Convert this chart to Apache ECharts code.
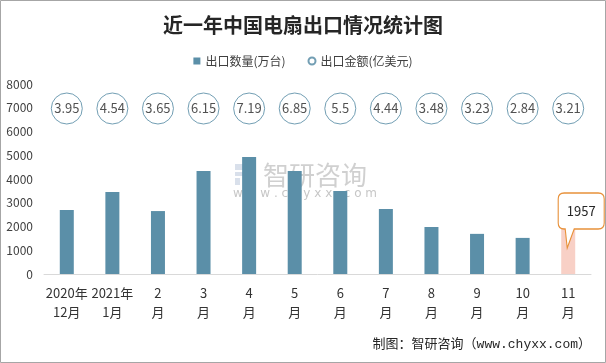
<!DOCTYPE html>
<html>
<head>
<meta charset="utf-8">
<script src="https://cdn.jsdelivr.net/npm/echarts@6/dist/echarts.min.js"></script>
<style>
html,body{margin:0;padding:0;background:#fff;}
#c{width:606px;height:363px;}
</style>
</head>
<body>
<div id="c"></div>
<script>
const categories = ['2020年\n12月','2021年\n1月','2\n月','3\n月','4\n月','5\n月','6\n月','7\n月','8\n月','9\n月','10\n月','11\n月'];
const exportVolume = [2700, 3450, 2650, 4340, 4930, 4340, 3500, 2740, 1980, 1690, 1520, 1957];
const exportValue = [3.95, 4.54, 3.65, 6.15, 7.19, 6.85, 5.5, 4.44, 3.48, 3.23, 2.84, 3.21];
const yMin = 0, yMax = 8000, yInterval = 1000;

const FONT = '"Noto Sans CJK SC", sans-serif';
const chart = echarts.init(document.getElementById('c'));
const lastIdx = exportVolume.length - 1;

chart.setOption({
  animation: false,
  backgroundColor: '#fff',
  title: {
    text: '近一年中国电扇出口情况统计图',
    left: 'center', top: 10,
    textStyle: {fontFamily: FONT, fontSize: 20, fontWeight: 'bold', color: '#262626'}
  },
  legend: {
    top: 50, left: 'center',
    itemWidth: 7, itemHeight: 7, itemGap: 22,
    textStyle: {fontFamily: FONT, fontSize: 12, color: '#404040'},
    data: [
      {name: '出口数量(万台)', icon: 'rect'},
      {name: '出口金额(亿美元)', icon: 'circle'}
    ]
  },
  grid: [
    {left: 44, right: 15, top: 84, bottom: 89},
    {left: 44, right: 15, top: 93, height: 31}
  ],
  xAxis: [{
    type: 'category', data: categories, gridIndex: 0,
    axisLine: {lineStyle: {color: '#d9d9d9', width: 1}},
    axisTick: {show: false},
    axisLabel: {interval: 0, margin: 10, fontFamily: FONT, fontSize: 13, lineHeight: 19, color: '#333'}
  }, {
    type: 'category', data: categories, gridIndex: 1, show: false
  }],
  yAxis: [{
    type: 'value', min: yMin, max: yMax, interval: yInterval, gridIndex: 0,
    axisLine: {show: false}, axisTick: {show: false}, splitLine: {show: false},
    axisLabel: {margin: 11, fontFamily: FONT, fontSize: 12, color: '#404040', formatter: v => String(v)}
  }, {
    type: 'value', min: 0, max: 1, gridIndex: 1, show: false
  }],
  series: [{
    name: '出口数量(万台)',
    type: 'bar', barWidth: 14,
    itemStyle: {color: '#5b8fa8'},
    data: exportVolume.map((v, i) => i === lastIdx ? {value: v, itemStyle: {color: '#f8d0c6'}} : v),
    markPoint: {
      symbol: 'path://M6,0 H40 Q46,0 46,6 V30 Q46,36 40,36 H16 L9,55 L7,36 H6 Q0,36 0,30 V6 Q0,0 6,0 Z',
      symbolSize: [46, 55],
      symbolOffset: [13, -7],
      itemStyle: {color: '#fff', borderColor: '#e8913a', borderWidth: 1.2},
      label: {show: true, position: 'inside', offset: [0, -9.5], fontFamily: FONT, fontSize: 13, color: '#262626', formatter: '{c}'},
      data: [{coord: [lastIdx, exportVolume[lastIdx]], value: exportVolume[lastIdx]}]
    }
  }, {
    name: '出口金额(亿美元)',
    type: 'scatter', xAxisIndex: 1, yAxisIndex: 1,
    symbol: 'circle', symbolSize: 31,
    itemStyle: {color: '#fff', borderColor: '#4f86a0', borderWidth: 1},
    label: {show: true, position: 'inside', fontFamily: FONT, fontSize: 13, color: '#262626',
      formatter: p => String(p.value[2])},
    data: exportValue.map((v, i) => [i, 0.5, v]),
    z: 5
  }],
  graphic: [
    {type: 'group', z: 100, silent: true, children: [
      {type: 'rect', shape: {x: 235, y: 164, width: 9, height: 6}, style: {fill: '#c9d3e3', opacity: 0.7}},
      {type: 'rect', shape: {x: 246, y: 164, width: 10, height: 10}, style: {fill: '#b8c7dc', opacity: 0.7}},
      {type: 'rect', shape: {x: 235, y: 172, width: 9, height: 4}, style: {fill: '#c9d3e3', opacity: 0.7}},
      {type: 'rect', shape: {x: 235, y: 178, width: 5, height: 7}, style: {fill: '#c9d3e3', opacity: 0.7}},
      {type: 'rect', shape: {x: 246, y: 177, width: 10, height: 8}, style: {fill: '#b8c7dc', opacity: 0.7}},
      {type: 'text', style: {text: '智研咨询', x: 263, y: 175, verticalAlign: 'middle', font: '26px "Noto Sans CJK SC"', fill: '#b0b0b0', opacity: 0.6}},
      {type: 'text', style: {text: 'w w w . c h y x x . c o m', x: 233, y: 194, verticalAlign: 'middle', font: '12px "DejaVu Sans"', fill: '#a0a0a0', opacity: 0.6}}
    ]},
    {type: 'text', right: 15, top: 338, style: {text: '制图：智研咨询（www.chyxx.com）', font: '13px "Liberation Mono", "Noto Sans CJK SC"', fill: '#262626'}},
    {type: 'rect', z: 100, silent: true, shape: {x: 0.5, y: 0.5, width: 605, height: 362}, style: {fill: 'none', stroke: '#a6a6a6', lineWidth: 1}}
  ]
});
</script>
</body>
</html>
